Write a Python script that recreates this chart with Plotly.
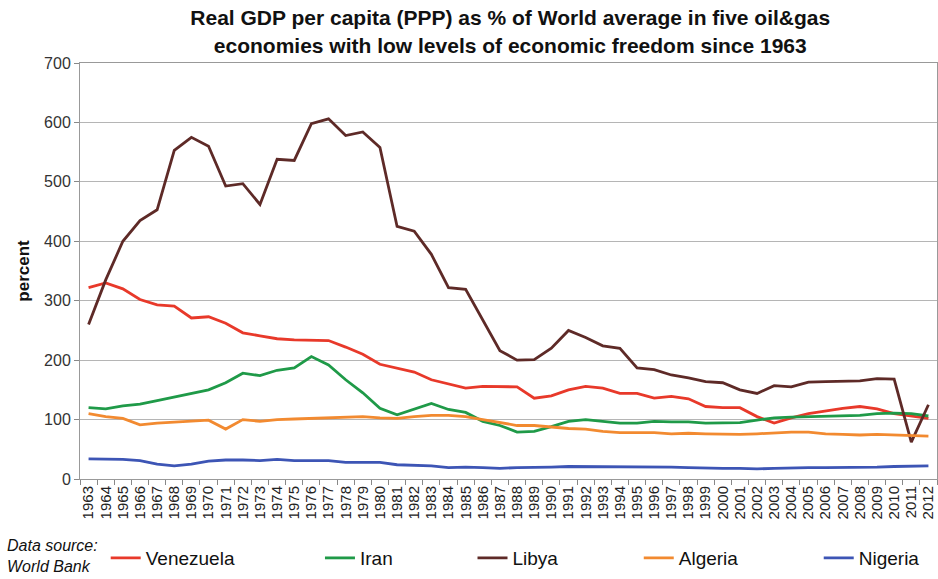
import plotly.graph_objects as go

years = list(range(1963, 2013))

venezuela = [322, 330, 320, 302, 293, 291, 271, 273, 262, 246, 241, 236, 234, 234, 233, 222, 210, 193, 186, 180,
             167, 160, 153, 156, 155, 155, 136, 140, 150, 156, 153, 144, 144, 136, 139, 135, 122, 120, 120, 105,
             94, 103, 110, 115, 119, 122, 118, 110, 106, 102]
iran = [120, 118, 123, 126, 132, 138, 145, 150, 162, 178, 174, 183, 187, 206, 192, 167, 145, 119, 108, 118,
        127, 117, 112, 97, 90, 79, 80, 88, 97, 100, 97, 94, 94, 97, 96, 96, 94, 94, 95, 99,
        103, 104, 105, 106, 107, 107, 110, 111, 110, 106]
libya = [260, 335, 400, 435, 453, 553, 575, 560, 493, 497, 462, 538, 536, 598, 606, 578, 584, 558, 425, 417,
         378, 322, 319, 268, 216, 200, 201, 220, 250, 238, 224, 220, 187, 184, 175, 170, 164, 162, 150, 144,
         157, 155, 163, 164, 164, 165, 169, 168, 62, 125]
algeria = [110, 105, 102, 91, 94, 96, 97, 99, 84, 100, 97, 100, 101, 102, 102, 104, 105, 103, 102, 105,
           107, 107, 105, 100, 95, 90, 90, 87, 85, 84, 80, 78, 78, 78, 76, 77, 76, 75, 75, 76,
           78, 79, 79, 76, 75, 74, 75, 74, 72, 72]
nigeria = [34, 34, 33, 31, 25, 22, 25, 30, 32, 32, 31, 33, 31, 31, 31, 28, 28, 28, 24, 23,
           22, 19, 20, 19, 18, 19, 19, 20, 21, 21, 21, 20, 20, 20, 20, 19, 18, 18, 18, 17,
           18, 19, 19, 19, 19, 19, 20, 21, 22, 22]

# name, values, colour, legend x position (Excel spaced them unevenly)
series = [
    ('Venezuela', venezuela, '#e8392a', 0.030),
    ('Iran', iran, '#1f9a48', 0.280),
    ('Libya', libya, '#5e2a27', 0.458),
    ('Algeria', algeria, '#f28a30', 0.652),
    ('Nigeria', nigeria, '#3d55b5', 0.862),
]

fig = go.Figure()
layout_legends = {}
for i, (name, vals, col, lx) in enumerate(series):
    key = 'legend' if i == 0 else 'legend%d' % (i + 1)
    fig.add_trace(go.Scatter(x=[str(y) for y in years], y=vals, mode='lines', name=name,
                             line=dict(color=col, width=2.8), legend=key))
    layout_legends[key] = dict(x=lx, y=-0.19, xanchor='left', yanchor='middle', itemwidth=30,
                               bgcolor='rgba(0,0,0,0)',
                               font=dict(size=19, family='Liberation Sans, Arial, sans-serif', color='#111'))

fig.update_layout(
    width=938, height=579,
    margin=dict(l=80, r=1, t=63, b=100),
    paper_bgcolor='white', plot_bgcolor='white',
    font=dict(family='Liberation Sans, Arial, sans-serif', color='#222'),
    title=dict(text='<b>Real GDP per capita (PPP) as % of World average in five oil&gas<br>'
                    'economies with low levels of economic freedom since 1963</b>',
               x=0.544, xanchor='center', y=0.956, yanchor='top',
               font=dict(size=21, color='#111')),
    showlegend=True,
    **layout_legends,
)

fig.update_xaxes(type='category', range=[-0.5, 49.5], dtick=1, tickangle=-90, ticks='outside',
                 tickson='boundaries', ticklen=5, tickcolor='#888',
                 tickfont=dict(size=15, color='#222'), showline=True, linecolor='#999', mirror=True,
                 showgrid=False)
fig.update_yaxes(range=[0, 700], dtick=100, showgrid=True, gridcolor='#b5b5b5', gridwidth=1,
                 ticks='outside', ticklen=5, tickcolor='#888', tickfont=dict(size=16, color='#333'),
                 showline=True, linecolor='#999', mirror=True, zeroline=False,
                 title=dict(text='<b>percent</b>', font=dict(size=17, color='#111'), standoff=10))

fig.add_annotation(text='<i>Data source:<br>World Bank</i>', xref='paper', yref='paper',
                   x=-0.088, y=-0.135, xanchor='left', yanchor='top', showarrow=False, align='left',
                   font=dict(size=16, color='#111'))

# the page body has a default 8px margin; drop it so the figure sits flush in the window
fig.write_html('out.html', config={'displayModeBar': False},
               post_script="document.body.style.margin='0';")
